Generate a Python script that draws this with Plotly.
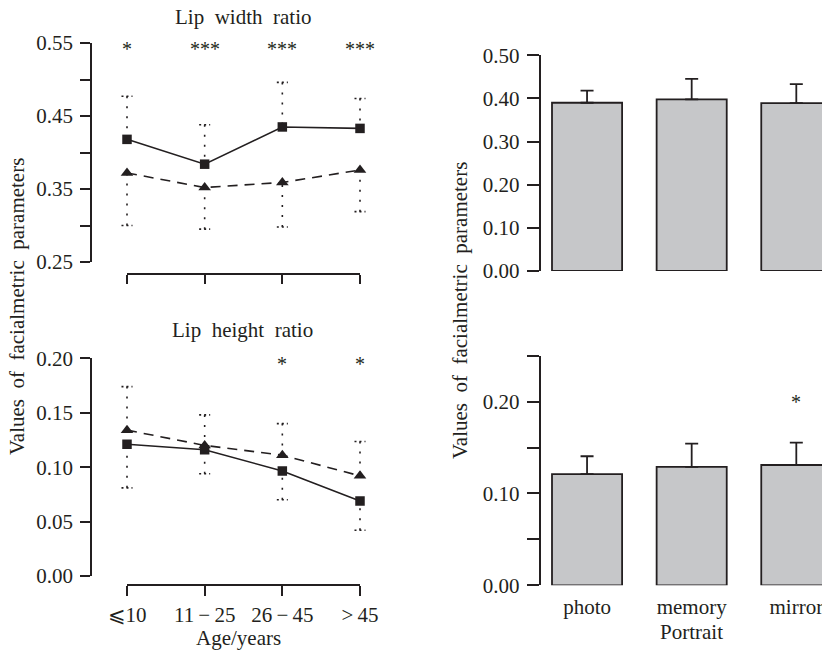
import plotly.graph_objects as go

# ---------------- data ----------------
age_groups = ["\u2a7d10", "11\u2009\u2212\u200925", "26\u2009\u2212\u200945", ">\u200945"]

width_square = [0.418, 0.384, 0.435, 0.433]
width_triangle = [0.372, 0.352, 0.359, 0.376]
width_err_high = [0.477, 0.438, 0.496, 0.474]
width_err_low = [0.300, 0.295, 0.298, 0.319]
width_stars = ["*", "***", "***", "***"]

height_square = [0.121, 0.116, 0.0965, 0.069]
height_triangle = [0.134, 0.120, 0.111, 0.092]
height_err_high = [0.174, 0.148, 0.140, 0.1235]
height_err_low = [0.081, 0.094, 0.070, 0.042]
height_stars = ["", "", "*", "*"]

portrait = ["photo", "memory", "mirror"]
portrait_width_mean = [0.390, 0.398, 0.389]
portrait_width_err = [0.028, 0.0475, 0.044]
portrait_height_mean = [0.121, 0.129, 0.131]
portrait_height_err = [0.0195, 0.0253, 0.0244]
portrait_height_stars = ["", "", "*"]

# ---------------- style ----------------
# the page body adds an 8px offset, so the figure is 8px smaller and
# reference pixel positions are shifted by OFF
OFF = 8
W, H = 830 - OFF, 650 - OFF
FONT = "Liberation Serif"
INK = "#231f20"
BAR_FILL = "#c6c7c9"
TICK_FS = 21


def fx(p):
    return (p - OFF) / W


def fy(p):
    return 1 - (p - OFF) / H


fig = go.Figure()
xi = list(range(len(age_groups)))
CAP = 0.071


def add_line_panel(xa, ya, sq, tri, hi, lo):
    fig.add_trace(go.Scatter(
        x=xi, y=tri, mode="lines+markers", xaxis=xa, yaxis=ya,
        line=dict(color=INK, width=1.6, dash="10px,7px"),
        marker=dict(symbol="triangle-up", size=11, color=INK)))
    fig.add_trace(go.Scatter(
        x=xi, y=sq, mode="lines+markers", xaxis=xa, yaxis=ya,
        line=dict(color=INK, width=1.6),
        marker=dict(symbol="square", size=9.5, color=INK)))
    vx, vy, cx, cy = [], [], [], []
    for i in xi:
        top = max(sq[i], tri[i])
        bot = min(sq[i], tri[i])
        vx += [i, i, None, i, i, None]
        vy += [hi[i], top, None, lo[i], bot, None]
        cx += [i - CAP, i + CAP, None, i - CAP, i + CAP, None]
        cy += [hi[i], hi[i], None, lo[i], lo[i], None]
    fig.add_trace(go.Scatter(x=vx, y=vy, mode="lines", xaxis=xa, yaxis=ya,
                             line=dict(color=INK, width=1.6, dash="2px,8px")))
    fig.add_trace(go.Scatter(x=cx, y=cy, mode="lines", xaxis=xa, yaxis=ya,
                             line=dict(color=INK, width=1.6, dash="2px,3px")))


add_line_panel("x", "y", width_square, width_triangle, width_err_high, width_err_low)
add_line_panel("x2", "y2", height_square, height_triangle, height_err_high, height_err_low)

px_i = list(range(len(portrait)))
for xa, ya, mean, err in [("x3", "y3", portrait_width_mean, portrait_width_err),
                          ("x4", "y4", portrait_height_mean, portrait_height_err)]:
    fig.add_trace(go.Bar(
        x=px_i, y=mean, width=0.67, xaxis=xa, yaxis=ya, cliponaxis=False,
        marker=dict(color=BAR_FILL, line=dict(color=INK, width=1.8)),
        error_y=dict(type="data", symmetric=False, array=err,
                     arrayminus=[0] * len(err), color=INK, thickness=1.8, width=6.5)))

# ---------------- axes ----------------
axis_font = dict(family=FONT, size=TICK_FS, color=INK)
left_xrange = [-0.4506, 3.2575]
left_dom = [fx(92), fx(380)]
right_xrange = [-0.443, 2.322]
right_dom = [fx(540.7), 1.0]

common_y = dict(showgrid=False, zeroline=False, showline=True, linecolor=INK, linewidth=1.8,
                ticks="outside", tickcolor=INK, tickwidth=1.8, tickfont=axis_font,
                ticklabelstandoff=3, automargin=False)
common_x = dict(showgrid=False, zeroline=False, showline=False, automargin=False)

fig.update_layout(
    template="none",
    width=W, height=H, margin=dict(l=0, r=0, t=0, b=0, autoexpand=False),
    paper_bgcolor="white", plot_bgcolor="white", showlegend=False,
    font=dict(family=FONT, color=INK),
    xaxis=dict(domain=left_dom, range=left_xrange, anchor="free", position=fy(274),
               tickvals=xi, showticklabels=False, ticks="outside", ticklen=9,
               tickwidth=1.8, tickcolor=INK, **common_x),
    yaxis=dict(domain=[fy(262), fy(43)], range=[0.25, 0.55], anchor="x",
               tickvals=[0.25, 0.30, 0.35, 0.40, 0.45, 0.50, 0.55],
               ticktext=["0.25", "", "0.35", "", "0.45", "", "0.55"], ticklen=10, **common_y),
    xaxis2=dict(domain=left_dom, range=left_xrange, anchor="free", position=fy(585),
                tickvals=xi, ticktext=age_groups, tickfont=axis_font, ticks="outside", ticklen=10,
                tickwidth=1.8, tickcolor=INK, ticklabelstandoff=1, **common_x),
    yaxis2=dict(domain=[fy(576), fy(358.3)], range=[0, 0.20], anchor="x2",
                tickvals=[0, 0.05, 0.10, 0.15, 0.20],
                ticktext=["0.00", "0.05", "0.10", "0.15", "0.20"], ticklen=10, **common_y),
    xaxis3=dict(domain=right_dom, range=right_xrange, anchor="y3", showticklabels=False,
                ticks="", **common_x),
    yaxis3=dict(domain=[fy(271), fy(55.3)], range=[0, 0.5], anchor="x3",
                tickvals=[0, 0.1, 0.2, 0.3, 0.4, 0.5],
                ticktext=["0.00", "0.10", "0.20", "0.30", "0.40", "0.50"], ticklen=12, **common_y),
    xaxis4=dict(domain=right_dom, range=right_xrange, anchor="y4", tickvals=px_i,
                ticktext=portrait, tickfont=axis_font, ticks="outside", ticklen=2,
                tickcolor="rgba(0,0,0,0)", **common_x),
    yaxis4=dict(domain=[fy(585.3), fy(355.7)], range=[0, 0.25], anchor="x4",
                tickvals=[0, 0.05, 0.10, 0.15, 0.20, 0.25],
                ticktext=["0.00", "", "0.10", "", "0.20", ""], ticklen=12, **common_y),
)

# x-axis lines of the left panels spanning first..last category
for xref, ypos in [("x", fy(274)), ("x2", fy(585))]:
    fig.add_shape(type="line", xref=xref, yref="paper", x0=xi[0], x1=xi[-1],
                  y0=ypos, y1=ypos, line=dict(color=INK, width=1.8))

# ---------------- annotations ----------------
ann = []
star_font = dict(family=FONT, size=20, color=INK)
for i, s in enumerate(width_stars):
    if s:
        ann.append(dict(x=i, y=0.55, xref="x", yref="y", text=s, showarrow=False,
                        xanchor="center", yanchor="middle", yshift=-6, font=star_font))
for i, s in enumerate(height_stars):
    if s:
        ann.append(dict(x=i, y=0.20, xref="x2", yref="y2", text=s, showarrow=False,
                        xanchor="center", yanchor="middle", yshift=-6, font=star_font))
for i, s in enumerate(portrait_height_stars):
    if s:
        ann.append(dict(x=i, y=0.20, xref="x4", yref="y4", text=s, showarrow=False,
                        xanchor="center", yanchor="middle", yshift=0, font=star_font))

title_font = dict(family=FONT, size=21, color=INK)
ann += [
    dict(x=fx(243), y=fy(17), xref="paper", yref="paper", text="Lip\u2002width\u2002ratio"),
    dict(x=fx(242), y=fy(330), xref="paper", yref="paper", text="Lip\u2002height\u2002ratio"),
    dict(x=fx(238), y=fy(638), xref="paper", yref="paper", text="Age/years"),
    dict(x=1, y=fy(632), xref="x4", yref="paper", text="Portrait"),
    dict(x=fx(17), y=fy(307), xref="paper", yref="paper", textangle=-90,
         text="Values\u2002of\u2002facialmetric\u2002parameters"),
    dict(x=fx(460), y=fy(311), xref="paper", yref="paper", textangle=-90,
         text="Values\u2002of\u2002facialmetric\u2002parameters"),
]
for a in ann[-6:]:
    a.update(showarrow=False, xanchor="center", yanchor="middle", font=title_font)
fig.update_layout(annotations=ann)

fig.write_html("out.html")
